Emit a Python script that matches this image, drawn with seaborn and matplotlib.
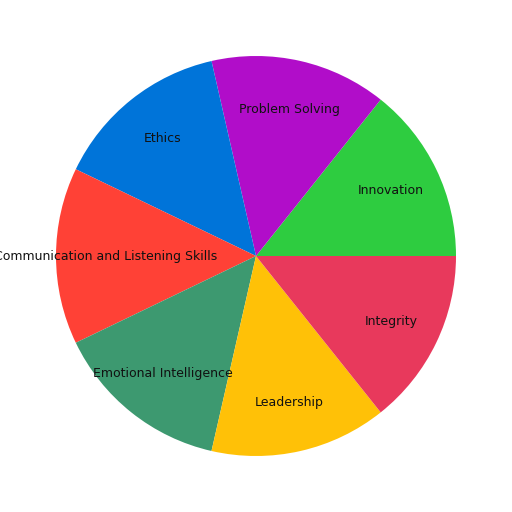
import matplotlib
matplotlib.use("Agg")
import matplotlib.pyplot as plt
import seaborn as sns

sns.set_theme(style="white")
plt.rcParams['font.family'] = ['DejaVu Sans']

# data
skills = ["Innovation", "Problem Solving", "Ethics",
          "Communication and Listening Skills", "Emotional Intelligence",
          "Leadership", "Integrity"]
weights = [1, 1, 1, 1, 1, 1, 1]
colors = ["#2ECC40", "#B10DC9", "#0074D9", "#FF4136",
          "#3D9970", "#FFC107", "#E8395C"]

fig = plt.figure(figsize=(5.12, 5.12), dpi=100)
ax = fig.add_axes([6 / 512, 6 / 512, 500 / 512, 500 / 512])
wedges, texts = ax.pie(weights, labels=skills, colors=colors,
                       startangle=0, counterclock=True, labeldistance=0.75,
                       wedgeprops={"linewidth": 0},
                       textprops={"fontsize": 9, "color": "#111111"})
for t in texts:
    t.set_horizontalalignment("center")
ax.set_aspect("equal")

fig.savefig("out.png", dpi=100)
